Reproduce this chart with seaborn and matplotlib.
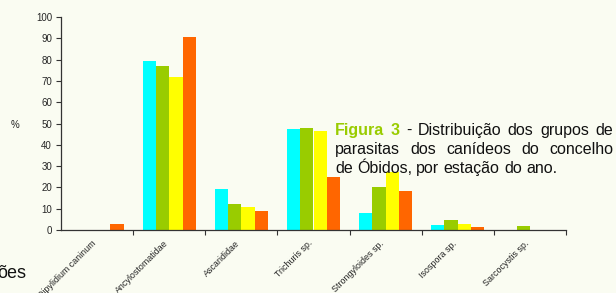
import numpy as np
import pandas as pd
import seaborn as sns
import matplotlib.pyplot as plt
from matplotlib.transforms import ScaledTranslation

grupos = ['Dipylidium caninum', 'Ancylostomatidae', 'Ascarididae', 'Trichuris sp.',
          'Strongyloides sp.', 'Isospora sp.', 'Sarcocystis sp.']
estacoes = ['Primavera', 'Verão', 'Outono', 'Inverno']
primavera = [0, 79.3, 19.2, 47.4, 8.0, 2.3, 0]
verao = [0, 77.0, 12.4, 47.9, 20.2, 4.7, 1.9]
outono = [0, 71.8, 11.0, 46.5, 27.2, 2.8, 0]
inverno = [2.6, 90.6, 8.9, 24.9, 18.3, 1.4, 0]
cores = ['#00FFFF', '#99CC00', '#FFFF00', '#FF6600']

df = pd.DataFrame({
    'grupo': grupos * 4,
    'estacao': np.repeat(estacoes, len(grupos)),
    'pct': primavera + verao + outono + inverno,
})

sns.set_style('ticks')
plt.rcParams['font.family'] = ['Liberation Sans', 'DejaVu Sans']
fundo = '#FAFCF2'
W, H = 616, 293

fig = plt.figure(figsize=(W / 100, H / 100), dpi=100, facecolor=fundo)
ax = fig.add_axes([61 / W, 1 - 230 / H, (566 - 61) / W, (230 - 17) / H])
ax.set_facecolor(fundo)

sns.barplot(data=df, x='grupo', y='pct', hue='estacao', palette=cores, saturation=1,
            width=0.74, gap=0, linewidth=0, legend=False, ax=ax)

ax.set_xlim(-0.5, 6.5)
ax.set_ylim(0, 100)
ax.set_yticks(range(0, 101, 10))
ax.set_xlabel('')
ax.set_ylabel('')
ax.set_xticks(range(len(grupos)))
ax.set_xticks(np.arange(0.5, 7, 1), minor=True)
ax.tick_params(axis='x', which='major', length=0, pad=4)
ax.tick_params(axis='x', which='minor', length=3.5, width=0.8, color='#333333', direction='out')
ax.tick_params(axis='y', length=3.5, width=0.8, color='#333333', labelsize=7, pad=3, direction='out')
ax.set_xticklabels(grupos, rotation=45, ha='right', va='top', rotation_mode='anchor',
                   fontsize=6.4, color='#222222')
desloc = ScaledTranslation(-0.06, -0.03, fig.dpi_scale_trans)
for lab in ax.get_xticklabels():
    lab.set_transform(lab.get_transform() + desloc)
for s in ['top', 'right']:
    ax.spines[s].set_visible(False)
for s in ['left', 'bottom']:
    ax.spines[s].set_color('#333333')
    ax.spines[s].set_linewidth(0.9)

fig.text(15 / W, 1 - 125 / H, '%', fontsize=7, color='#222222', ha='center', va='center')
fig.text(-3 / W, 1 - 278 / H, 'ões', fontsize=13, color='#111111', ha='left', va='baseline')


def linha(palavras, x0, x1, yb, justificar=True):
    r = fig.canvas.get_renderer()
    textos = []
    for p, props in palavras:
        kw = dict(fontsize=11.5, va='baseline', ha='left', color='#111111')
        kw.update(props)
        textos.append(fig.text(0, 1 - yb / H, p, **kw))
    larg = [t.get_window_extent(r).width for t in textos]
    espaco = 4.3
    if justificar and len(textos) > 1:
        espaco = (x1 - x0 - sum(larg)) / (len(textos) - 1)
    x = x0
    for t, w in zip(textos, larg):
        t.set_x(x / W)
        x += w + espaco


verde = dict(color='#99CC00', fontweight='bold')
linha([('Figura', verde), ('3', verde), ('-', {}), ('Distribuição', {}), ('dos', {}),
       ('grupos', {}), ('de', {})], 335, 613, 135)
linha([('parasitas', {}), ('dos', {}), ('canídeos', {}), ('do', {}), ('concelho', {})],
      335, 613, 154)
linha([('de', {}), ('Óbidos,', {}), ('por', {}), ('estação', {}), ('do', {}), ('ano.', {})],
      335, 613, 173, justificar=False)

fig.savefig('out.png', dpi=100, facecolor=fundo)
